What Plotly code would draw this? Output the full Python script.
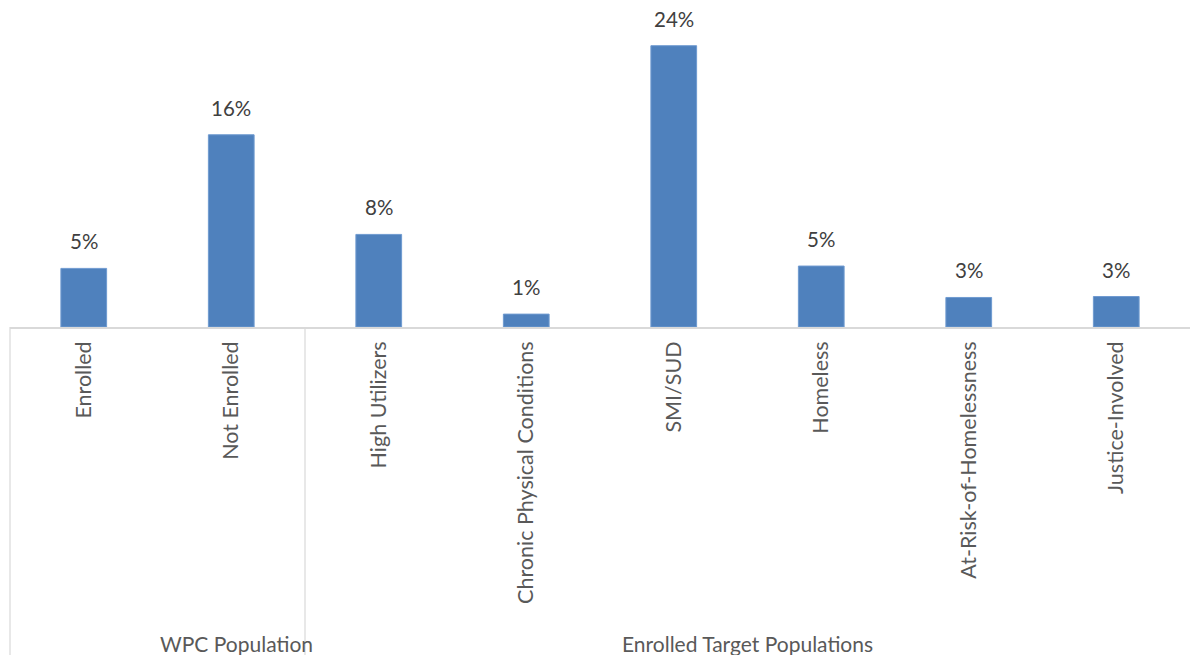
import plotly.graph_objects as go

categories = ["Enrolled", "Not Enrolled", "High Utilizers", "Chronic Physical Conditions",
              "SMI/SUD", "Homeless", "At-Risk-of-Homelessness", "Justice-Involved"]
values = [0.050, 0.164, 0.079, 0.011, 0.240, 0.052, 0.0252, 0.026]
groups = ["WPC Population", "Enrolled Target Populations"]
group_sizes = [2, 6]

FONT = "Lato"
BLUE = "#4F81BD"
GRID = "#D9D9D9"

fig = go.Figure()
fig.add_trace(go.Bar(
    x=categories,
    y=values,
    marker=dict(color=BLUE, line=dict(color="#6F9AD0", width=1)),
    hoverinfo="x+y",
))

# data labels above the bars
for c, v in zip(categories, values):
    fig.add_annotation(x=c, y=v, text=f"{v:.0%}", showarrow=False,
                       yanchor="middle", yshift=27,
                       font=dict(family=FONT, size=20.5, color="#404040"))

# group dividers and group labels below the axis
n = len(categories)
start = 0
bottom = -328 / 327
fig.add_shape(type="line", xref="paper", yref="paper", x0=0, x1=0, y0=0, y1=bottom,
              line=dict(color=GRID, width=1.2))
for g, size in zip(groups, group_sizes):
    end = start + size
    if end < n:
        fig.add_shape(type="line", xref="paper", yref="paper", x0=end / n, x1=end / n,
                      y0=0, y1=bottom, line=dict(color=GRID, width=1.2))
    fig.add_annotation(xref="paper", yref="paper", x=(start + end) / 2 / n, y=-316 / 327,
                       text=g, showarrow=False, yanchor="middle",
                       font=dict(family=FONT, size=21, color="#595959"))
    start = end

fig.update_layout(
    width=1190, height=655,
    margin=dict(l=10, r=0, t=0, b=328),
    plot_bgcolor="white", paper_bgcolor="white",
    bargap=0.69,
    showlegend=False,
    font=dict(family=FONT, color="#595959"),
)
fig.update_xaxes(
    type="category",
    tickangle=-90,
    tickfont=dict(family=FONT, size=21.5, color="#595959"),
    showline=True, linecolor=GRID, linewidth=1.5,
    showgrid=False, ticks="", ticklabelstandoff=4,
    automargin=False,
)
fig.update_yaxes(range=[0, 0.279], visible=False, automargin=False)

# the page body has a default 8px margin; drop it so the chart fills the window
fig.write_html("out.html", config={"displayModeBar": False},
               post_script="document.body.style.margin='0';document.body.style.overflow='hidden';")
